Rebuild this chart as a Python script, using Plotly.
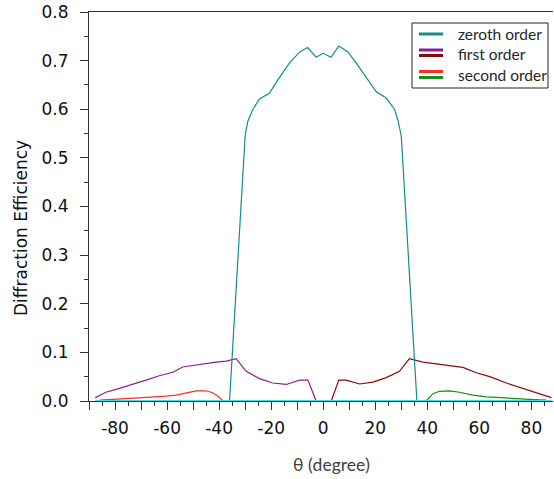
import plotly.graph_objects as go

# ---- data -------------------------------------------------------------
theta_zeroth = [-87.5, -36, -30, -29, -27, -24.5, -20.7, -17.5, -13, -9, -6, -2.7,
                0, 3, 6, 9.5, 12.7, 16.5, 20.4, 24.2, 27.4, 28.7, 30, 36, 87.5]
zeroth_order = [0, 0, 0.545, 0.575, 0.600, 0.621, 0.633, 0.660, 0.695, 0.718, 0.727, 0.707,
                0.715, 0.707, 0.730, 0.718, 0.695, 0.667, 0.636, 0.623, 0.600, 0.578, 0.545, 0, 0]

theta_first_neg = [-87.6, -83.5, -79.6, -75.8, -71.9, -68.1, -63, -57.8, -54, -50.2, -45,
                   -41.2, -37.3, -33.5, -29.6, -24.5, -19.4, -14.2, -9.1, -5.9, -2.7]
first_order_neg = [0.007, 0.018, 0.024, 0.030, 0.037, 0.043, 0.052, 0.059, 0.070, 0.073, 0.078,
                   0.080, 0.082, 0.087, 0.061, 0.046, 0.037, 0.034, 0.043, 0.043, 0.0]

theta_first_pos = [3.1, 6, 8.8, 14, 19.1, 24.2, 29.3, 33.1, 38.3, 43.5, 48.6, 53.7, 58.8,
                   64, 70.4, 75.5, 80.6, 85.8, 87.7]
first_order_pos = [0.0, 0.043, 0.043, 0.035, 0.039, 0.048, 0.061, 0.087, 0.080, 0.076, 0.073,
                   0.069, 0.058, 0.050, 0.037, 0.028, 0.019, 0.011, 0.007]

theta_second_neg = [-86, -80.9, -75.8, -70.7, -65.5, -60.4, -56.5, -52.7, -48.8, -45, -42.5,
                    -40.5, -38.5]
second_order_neg = [0.002, 0.003, 0.005, 0.0066, 0.008, 0.010, 0.012, 0.017, 0.021, 0.021,
                    0.017, 0.010, 0.0]

theta_second_pos = [39.6, 42.2, 44.7, 48.6, 52.4, 57.5, 62.7, 67.8, 74.2, 80.6, 85.8]
second_order_pos = [0.0, 0.015, 0.020, 0.021, 0.018, 0.012, 0.0086, 0.0066, 0.005, 0.003, 0.0017]

x_tick_vals = [-90, -80, -70, -60, -50, -40, -30, -20, -10, 0, 10, 20, 30, 40, 50, 60, 70, 80]
x_tick_text = ["", "-80", "", "-60", "", "-40", "", "-20", "", "0", "", "20", "", "40", "", "60", "", "80"]
y_tick_vals = [0.0, 0.1, 0.2, 0.3, 0.4, 0.5, 0.6, 0.7, 0.8]
y_tick_text = ["0.0", "0.1", "0.2", "0.3", "0.4", "0.5", "0.6", "0.7", "0.8"]

legend_labels = ["zeroth order", "first order", "second order"]

# ---- colours ----------------------------------------------------------
TEAL = "#128C8C"
CYAN = "#3FE0EC"
PURPLE = "#8E1E8E"
DARKRED = "#8B0A0A"
RED = "#FF2A2A"
GREEN = "#138F13"

# ---- layout geometry (pixels) -----------------------------------------
W, H = 554, 479
ML, MR, MT, MB = 89, 1, 12, 78
PW, PH = W - ML - MR, H - MT - MB


def px(xp):
    return (xp - ML) / PW


def py(yp):
    return (H - MB - yp) / PH


fig = go.Figure()

line_w = 1.2
fig.add_trace(go.Scatter(x=theta_first_neg, y=first_order_neg, mode="lines",
                         line=dict(color=PURPLE, width=line_w), showlegend=False))
fig.add_trace(go.Scatter(x=theta_first_pos, y=first_order_pos, mode="lines",
                         line=dict(color=DARKRED, width=line_w), showlegend=False))
fig.add_trace(go.Scatter(x=theta_second_neg, y=second_order_neg, mode="lines",
                         line=dict(color=RED, width=line_w), showlegend=False))
fig.add_trace(go.Scatter(x=theta_second_pos, y=second_order_pos, mode="lines",
                         line=dict(color=GREEN, width=line_w), showlegend=False))
fig.add_trace(go.Scatter(x=theta_zeroth, y=zeroth_order, mode="lines",
                         line=dict(color=TEAL, width=line_w), showlegend=False))
# zero level across the sampled angular range
theta_span = [min(theta_first_neg), max(theta_first_pos)]
fig.add_trace(go.Scatter(x=theta_span, y=[0 for _ in theta_span], mode="lines",
                         line=dict(color=CYAN, width=1.8), showlegend=False))

axis_col = "#333333"
tick_font = dict(family="DejaVu Sans", size=17, color="#111111")

fig.update_xaxes(range=[-90, 88.3], showline=True, linecolor=axis_col, linewidth=1.2,
                 mirror=True, showgrid=False, zeroline=False,
                 tickmode="array", tickvals=x_tick_vals, ticktext=x_tick_text,
                 ticks="outside", ticklen=8, tickwidth=1.2, tickcolor=axis_col,
                 tickfont=tick_font, ticklabelstandoff=3,
                 minor=dict(tickmode="linear", tick0=-85, dtick=10, ticks="outside",
                            ticklen=4, tickwidth=1.2, tickcolor=axis_col, showgrid=False))
fig.update_yaxes(range=[0, 0.8], showline=True, linecolor=axis_col, linewidth=1.2,
                 showgrid=False, zeroline=False,
                 tickmode="array", tickvals=y_tick_vals, ticktext=y_tick_text,
                 ticks="outside", ticklen=8, tickwidth=1.2, tickcolor=axis_col,
                 tickfont=tick_font, ticklabelstandoff=8,
                 minor=dict(tickmode="linear", tick0=0.05, dtick=0.1, ticks="outside",
                            ticklen=4, tickwidth=1.2, tickcolor=axis_col, showgrid=False))

annotations = [
    dict(text="Diffraction Efficiency", textangle=-90, xref="paper", yref="paper",
         x=px(21), y=py(318), xanchor="center", yanchor="bottom", showarrow=False,
         font=dict(family="DejaVu Sans", size=17, color="#111111")),
    dict(text="θ (degree)", xref="paper", yref="paper", x=px(331), y=py(464),
         xanchor="center", yanchor="middle", showarrow=False,
         font=dict(family="Lato, Noto Sans", size=17.5, color="#404040")),
]

# legend box drawn with shapes so that two-colour keys can be shown
legend_font = dict(family="Lato, Noto Sans", size=15.5, color="#262626")
shapes = [dict(type="rect", xref="paper", yref="paper", x0=px(412), x1=px(548),
               y0=py(88), y1=py(23), line=dict(color="#222222", width=1),
               fillcolor="white", layer="above")]
key_rows = [
    (33.5, [(34, TEAL)]),
    (53.5, [(50, PURPLE), (55.5, DARKRED)]),
    (74.5, [(71.5, RED), (77.5, GREEN)]),
]
for label, (ty, keys) in zip(legend_labels, key_rows):
    for ky, col in keys:
        shapes.append(dict(type="line", xref="paper", yref="paper", x0=px(419), x1=px(443),
                           y0=py(ky), y1=py(ky), line=dict(color=col, width=3),
                           layer="above"))
    annotations.append(dict(text=label, xref="paper", yref="paper", x=px(456), y=py(ty),
                            xanchor="left", yanchor="middle", showarrow=False,
                            font=legend_font))

fig.update_layout(width=W, height=H, margin=dict(l=ML, r=MR, t=MT, b=MB, pad=0),
                  paper_bgcolor="white", plot_bgcolor="white",
                  annotations=annotations, shapes=shapes, showlegend=False)

fig.write_html("out.html")
